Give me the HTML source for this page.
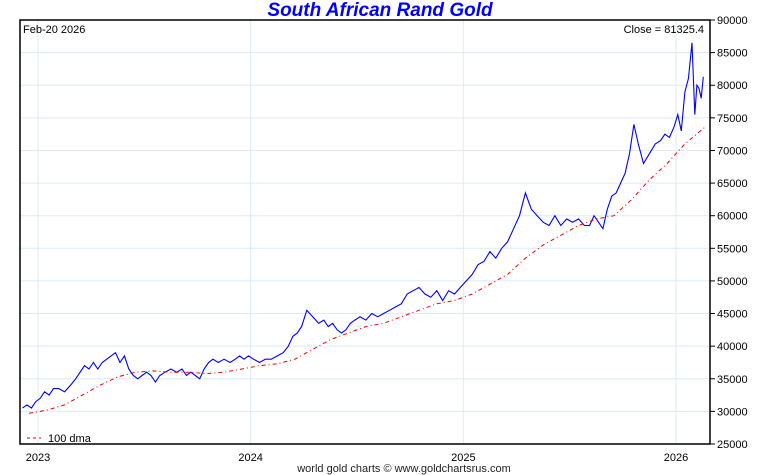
<!DOCTYPE html>
<html><head><meta charset="utf-8">
<style>
body{margin:0;background:#fff;width:760px;height:475px;overflow:hidden;font-family:"Liberation Sans",sans-serif;}
svg{display:block}
</style></head>
<body>
<svg id="chart" width="760" height="475" xmlns="http://www.w3.org/2000/svg">
<text x="380" y="16" text-anchor="middle" font-size="19" font-weight="bold" font-style="italic" fill="#0000ff">South African Rand Gold</text>
<g id="grid"></g>
<g id="axes"></g>
<g id="series"></g>
<rect x="20" y="20" width="690" height="424" fill="none" stroke="#000" stroke-width="1.5"/>
<text x="23" y="33" font-size="11">Feb-20  2026</text>
<text x="704" y="33" text-anchor="end" font-size="11">Close = 81325.4</text>
<line x1="27" y1="438" x2="41" y2="438" stroke="#e00" stroke-width="1" stroke-dasharray="3,3"/>
<text x="48" y="442" font-size="11">100 dma</text>
<text x="404" y="472" text-anchor="middle" font-size="11" fill="#222">world gold charts © www.goldchartsrus.com</text>
</svg>
<script>
const months = ["2022-12","2023-01","2023-02","2023-03","2023-04","2023-05","2023-06","2023-07","2023-08","2023-09","2023-10","2023-11","2023-12","2024-01","2024-02","2024-03","2024-04","2024-05","2024-06","2024-07","2024-08","2024-09","2024-10","2024-11","2024-12","2025-01","2025-02","2025-03","2025-04","2025-05","2025-06","2025-07","2025-08","2025-09","2025-10","2025-11","2025-12","2026-01","2026-02"];
const closeValues = [
[30500,31000,30500,31500],[32000,33000,32500,33500],[33500,33000,34000],[35000,36000,37000,36500],
[37500,36500,37500,38000],[38500,39000,37500,38500],[36500,35500,35000,35500],[36000,35500,34500,35500],
[36000,36500,36000],[36500,35500,36000,35500],[35000,36500,37500,38000],[37500,38000,37500],
[38000,38500,38000,38500],[38000,37500,38000],[38000,38500,39000],[40000,41500,42000,43000],
[45500,44500,43500],[44000,43000,43500,42500],[42000,42500,43500,44000],[44500,44000,45000],
[44500,45000,45500],[46000,46500,48000],[48500,49000,48000],[47500,48500,47000],[48500,48000,49000],
[50000,51000,52500],[53000,54500,53500],[55000,56000,58000],[60000,63500,61000],[60000,59000,58500],
[60000,58500,59500],[59000,59500,58500],[58500,60000,59000,58000],[61000,63000,63500,65000],
[66500,69500,74000,71000],[68000,69500,71000],[71500,72500,72000,73500],[75500,73000,79000,81000,86500],
[75500,80000,79500,78000,81300]];
const dmaValues = [29700,30200,31000,32500,34000,35300,36000,36200,36000,36000,35800,36000,36500,37000,37300,38000,39500,41000,42000,43000,43500,44500,45500,46500,47000,48000,49500,51000,53500,55500,57000,58500,59500,60000,62500,65500,68000,71000,73500];
const yTicks = [25000,30000,35000,40000,45000,50000,55000,60000,65000,70000,75000,80000,85000,90000];
const xTicks = ["2023","2024","2025","2026"];

const NS="http://www.w3.org/2000/svg";
const X=t=>38+(t-2023)*212.67;
const Y=v=>444-(v-25000)/1000*6.523;
function mk(tag,attrs,parent){const e=document.createElementNS(NS,tag);for(const k in attrs)e.setAttribute(k,attrs[k]);parent.appendChild(e);return e;}
const grid=document.getElementById('grid'),axes=document.getElementById('axes'),series=document.getElementById('series');
yTicks.forEach(v=>{
  const y=Y(v);
  if(v>25000&&v<90000){const g=mk('line',{x1:20,x2:710,y1:y,y2:y,stroke:'#dcebf7','stroke-width':1},grid);
  
  }
  const t=mk('line',{x1:710,x2:715,y1:y,y2:y,stroke:'#000'},axes);
  
  
  const l=mk('text',{x:717,y:y+4,'font-size':11},axes);l.textContent=v;
  
  
});
xTicks.forEach(s=>{
  const x=X(+s);
  const g=mk('line',{x1:x,x2:x,y1:20,y2:444,stroke:'#dcebf7','stroke-width':1},grid);
  
  
  const l=mk('text',{x:x,y:461,'font-size':11,'text-anchor':'middle'},axes);l.textContent=s;
  
  
});
function monthT(m){const [y,mo]=m.split('-').map(Number);return y+(mo-1)/12;}
let pts=[];
months.forEach((m,i)=>{const vals=closeValues[i];const t0=monthT(m);
  const span=(m==="2026-02")?0.6:1;
  vals.forEach((v,j)=>{const t=t0+(j+0.5)/vals.length*span/12;pts.push(X(t).toFixed(1)+','+Y(v).toFixed(1));});});
const line=mk('polyline',{points:pts.join(' '),fill:'none',stroke:'#0000ff','stroke-width':1.1},series);


let dp=dmaValues.map((v,i)=>{const t=monthT(months[i])+((i===dmaValues.length-1)?0.6:0.5)/12;return X(t).toFixed(1)+','+Y(v).toFixed(1);});
const dl=mk('polyline',{points:dp.join(' '),fill:'none',stroke:'#e00','stroke-width':1,'stroke-dasharray':'4,3,1,3'},series);


</script>
</body></html>
